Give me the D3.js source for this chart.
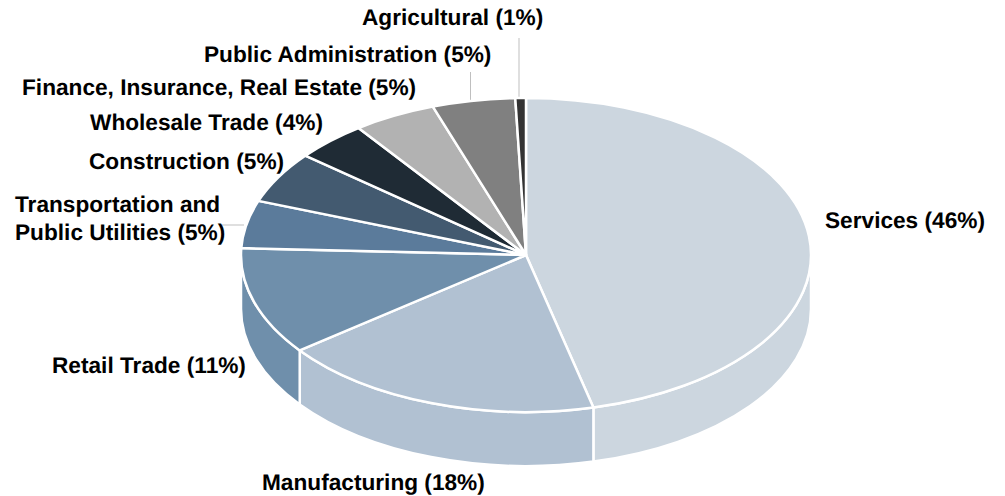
<!DOCTYPE html>
<html><head><meta charset="utf-8">
<script src="https://cdnjs.cloudflare.com/ajax/libs/d3/7.8.5/d3.min.js"></script>
<style>html,body{margin:0;background:#fff}svg{display:block}text{text-rendering:geometricPrecision}</style></head>
<body><svg id="c" width="1005" height="496"></svg>
<script>
const categories=["Services","Manufacturing","Retail Trade","Transportation and Public Utilities","Construction","Wholesale Trade","Finance, Insurance, Real Estate","Public Administration","Agricultural"];
const values=[46.2,18.4,11.1,4.9,5.3,4.1,4.7,4.7,0.6];
const labels=["Services (46%)","Manufacturing (18%)","Retail Trade (11%)",["Transportation and","Public Utilities (5%)"],"Construction (5%)","Wholesale Trade (4%)","Finance, Insurance, Real Estate (5%)","Public Administration (5%)","Agricultural (1%)"];
const colors=["#CCD6DF","#B1C1D2","#6F8FAB","#5B7B9B","#435A70","#1F2B35","#B2B2B2","#808080","#333333"];
const labelX=[825,262,52,15,89,90,22,204,362];
const labelY=[228,490,373,212,169,130,95,62,25];
const leaders=[[519,38,519,98],[470.5,72,470.5,102],[222,225,244,225]];

const cx=526,cy=255,rx=285,ry=157,depth=54;
const svg=d3.select("#c");
const arcs=d3.pie().value(d=>d).sort(null).startAngle(0).endAngle(2*Math.PI)(values);
const px=a=>cx+rx*Math.sin(a), py=a=>cy-ry*Math.cos(a);
const lo=Math.PI/2, hi=3*Math.PI/2;

// leader lines
svg.append("g").selectAll("line").data(leaders).join("line")
  .attr("x1",d=>d[0]).attr("y1",d=>d[1]).attr("x2",d=>d[2]).attr("y2",d=>d[3])
  .attr("stroke","#BFBFBF").attr("stroke-width",1);

// side walls (front half only)
const wall=d=>{
  const a0=Math.max(d.startAngle,lo),a1=Math.min(d.endAngle,hi);
  if(a1<=a0) return null;
  const x0=px(a0),y0=py(a0),x1=px(a1),y1=py(a1);
  return `M${x0},${y0}A${rx},${ry} 0 0 1 ${x1},${y1}L${x1},${y1+depth}A${rx},${ry} 0 0 0 ${x0},${y0+depth}Z`;
};
svg.append("g").selectAll("path").data(arcs.filter(wall)).join("path")
  .attr("d",wall).attr("fill",(d,i)=>colors[d.index])
  .attr("stroke","#fff").attr("stroke-width",2.5).attr("stroke-linejoin","round");

// top face
const arc=d3.arc().innerRadius(0).outerRadius(rx);
svg.append("g").attr("transform",`translate(${cx},${cy}) scale(1,${ry/rx})`)
  .selectAll("path").data(arcs).join("path")
  .attr("d",arc).attr("fill",d=>colors[d.index])
  .attr("stroke","#fff").attr("stroke-width",2.5).attr("stroke-linejoin","round")
  .attr("vector-effect","non-scaling-stroke");

// labels
const t=svg.append("g").attr("font-family","'Liberation Sans',Arial,sans-serif")
  .attr("font-weight","bold").attr("font-size",22.67).attr("fill","#000")
  .selectAll("text").data(labels).join("text")
  .attr("x",(d,i)=>labelX[i]).attr("y",(d,i)=>labelY[i]);
t.each(function(d,i){
  const s=d3.select(this);
  if(Array.isArray(d)) d.forEach((l,j)=>s.append("tspan").attr("x",labelX[i]).attr("dy",j?28:0).text(l));
  else s.text(d);
});
</script></body></html>
